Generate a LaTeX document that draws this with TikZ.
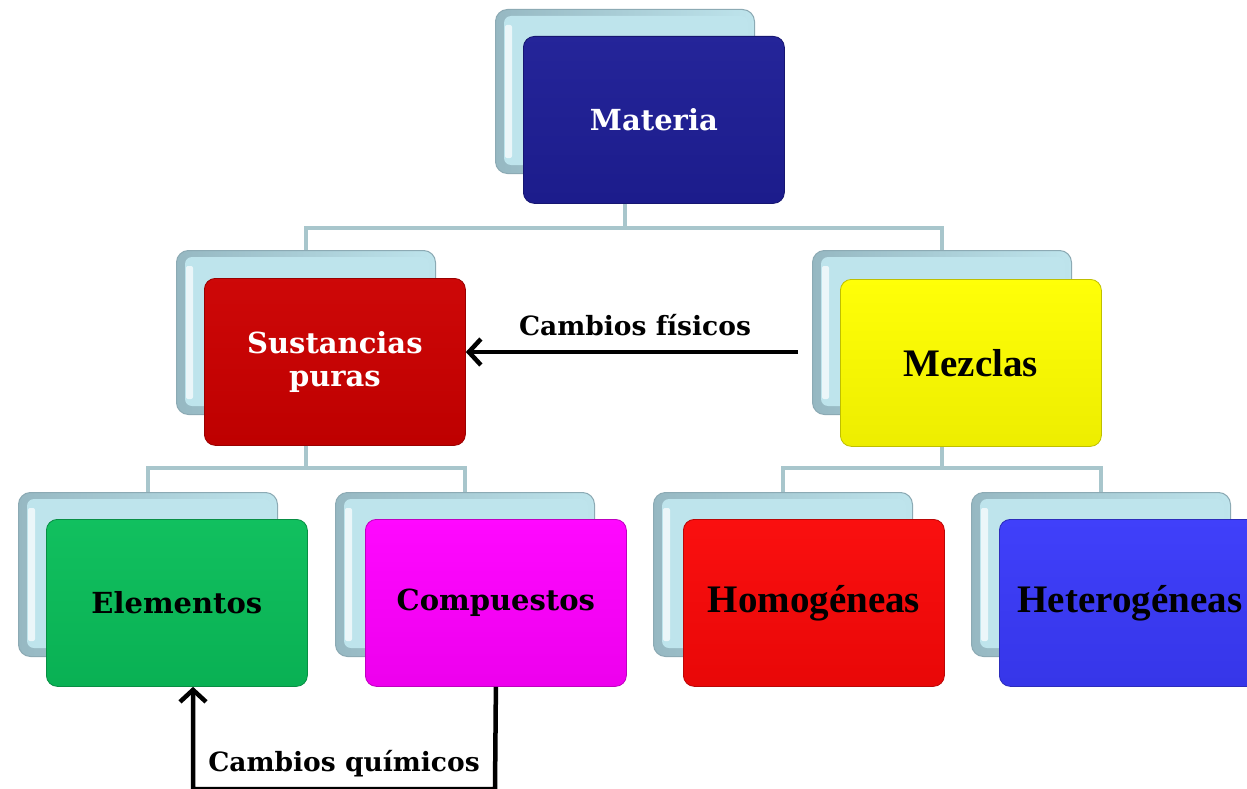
\documentclass[tikz,border=0pt]{standalone}
\usepackage{fontspec}
\newfontfamily\geo{DejaVu Serif}
\newfontfamily\tim{Liberation Serif}
\usetikzlibrary{arrows.meta,calc}
\definecolor{cMat}{RGB}{30,30,150}
\definecolor{cSus}{RGB}{204,0,0}
\definecolor{cMez}{RGB}{255,255,0}
\definecolor{cEl}{RGB}{10,190,90}
\definecolor{cComp}{RGB}{255,0,255}
\definecolor{cHom}{RGB}{250,8,8}
\definecolor{cHet}{RGB}{58,58,250}
\definecolor{backout}{RGB}{150,184,194}
\definecolor{backin}{RGB}{190,228,236}
\definecolor{backedge}{RGB}{140,170,180}
\definecolor{connc}{RGB}{168,198,204}
\tikzset{
  frontbox/.style={rounded corners=11pt, minimum width=261pt, minimum height=167pt,
    inner sep=0pt, anchor=north west, draw=#1!75!black, line width=0.8pt,
    top color=#1!97!white, bottom color=#1!93!black, align=center},
  backbox/.style={rounded corners=12pt, minimum width=259pt, minimum height=164pt,
    inner sep=0pt, anchor=north west, draw=backedge, line width=1pt,
    left color=backout, right color=backin},
  conn/.style={draw=connc, line width=3.5pt},
  arr/.style={draw=black, line width=4.5pt, -{Straight Barb[length=12pt,width=26pt]}},
  geotxt/.style={font=\geo\bfseries\fontsize{29pt}{33pt}\selectfont},
  timtxt/.style={font=\tim\bfseries\fontsize{39pt}{43pt}\selectfont},
  lbl/.style={font=\geo\bfseries\fontsize{26.5pt}{30pt}\selectfont, inner sep=0pt}
}
\newcommand{\backdeco}[1]{%
  \fill[backin, rounded corners=7pt] ($(#1.north west)+(9,7)$) rectangle ($(#1.south east)+(-7,-9)$);
  \fill[white, opacity=.7, rounded corners=2pt] ($(#1.north west)+(10,16)$) rectangle ($(#1.south west)+(17,-16)$);}
\begin{document}
\begin{tikzpicture}[x=1pt, y=-1pt]
\useasboundingbox (0,0) rectangle (1247,789);
\fill[white] (0,0) rectangle (1247,789);
% back boxes
\node[backbox] (matB) at (495,9) {};
\node[backbox] (susB) at (176,250) {};
\node[backbox] (mezB) at (812,250) {};
\node[backbox] (elB) at (18,492) {};
\node[backbox] (compB) at (335,492) {};
\node[backbox] (homB) at (653,492) {};
\node[backbox] (hetB) at (971,492) {};
\backdeco{matB}\backdeco{susB}\backdeco{mezB}\backdeco{elB}\backdeco{compB}\backdeco{homB}\backdeco{hetB}
% front boxes
\node[frontbox=cMat, geotxt, text=white] (mat) at (523,36) {Materia};
\node[frontbox=cSus, geotxt, text=white] (sus) at (204,278) {Sustancias\\puras};
\node[frontbox=cMez, timtxt] (mez) at (840,279) {Mezclas};
\node[frontbox=cEl, geotxt] (el) at (46,519) {Elementos};
\node[frontbox=cComp, geotxt] (comp) at (365,519) {Compuestos};
\node[frontbox=cHom, timtxt] (hom) at (683,519) {Homogéneas};
\node[frontbox=cHet, timtxt] (het) at (999,519) {Heterogéneas};
% connectors
\coordinate (h1) at (0,228);
\coordinate (h2) at (0,468);
\draw[conn] (matB.south |- mat.south) -- (matB.south |- h1) -| (susB.north);
\draw[conn] (matB.south |- h1) -| (mezB.north);
\draw[conn] (susB.south |- sus.south) -- (susB.south |- h2) -| (elB.north);
\draw[conn] (susB.south |- h2) -| (compB.north);
\draw[conn] (mezB.south |- mez.south) -- (mezB.south |- h2) -| (homB.north);
\draw[conn] (mezB.south |- h2) -| (hetB.north);
% change arrows
\coordinate (fisStart) at (798,352);
\draw[arr] (fisStart) -- (fisStart -| sus.east);
\node[lbl] (fis) at (635,325) {Cambios físicos};
\coordinate (qbot) at (495,789);
\coordinate (qleft) at (193,789);
\draw[arr] (comp.south) -- (qbot) -- (qleft) -- (qleft |- el.south);
\node[lbl] (quim) at (344,764) {Cambios químicos};
\end{tikzpicture}
\end{document}
